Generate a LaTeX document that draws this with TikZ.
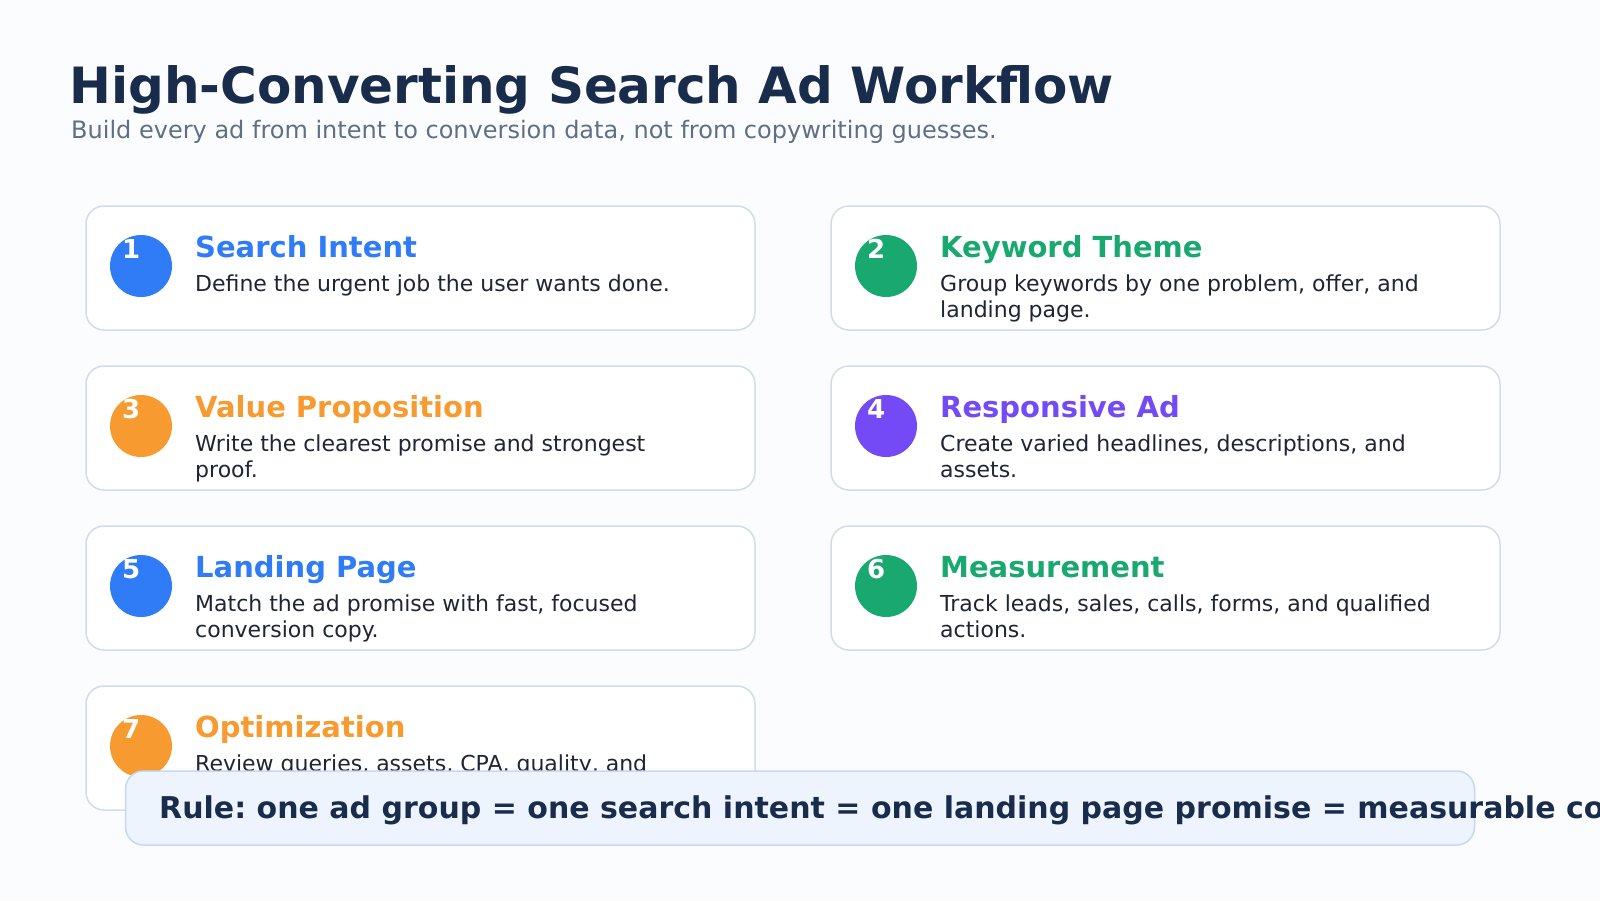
\documentclass[tikz,border=0pt]{standalone}
\usepackage{fontspec}
\setmainfont{DejaVu Sans}
\usepackage{tikz}
\frenchspacing

\definecolor{pagebg}{HTML}{FAFCFE}
\definecolor{navy}{HTML}{1A2C4B}
\definecolor{slate}{HTML}{5F6F86}
\definecolor{ink}{HTML}{1F2533}
\definecolor{cardline}{HTML}{D3DCEA}
\definecolor{stepblue}{HTML}{2F7CF6}
\definecolor{stepgreen}{HTML}{19A970}
\definecolor{steporange}{HTML}{F79A30}
\definecolor{steppurple}{HTML}{734AF6}
\definecolor{rulefill}{HTML}{EDF4FE}
\definecolor{ruleline}{HTML}{C3D9F5}

\tikzset{
    card/.style={draw=cardline,line width=1.5pt,fill=white,rounded corners=18pt,
        minimum width=669pt,minimum height=124pt,inner sep=0pt},
    badge/.style={circle,minimum size=62pt,inner sep=0pt},
    badgenum/.style={anchor=base west,inner sep=0pt,text=white,
        font=\fontsize{26}{30}\selectfont\bfseries},
    cardtitle/.style={anchor=base west,inner sep=0pt,
        font=\fontsize{29}{34}\selectfont\bfseries},
    carddesc/.style={anchor=base west,inner sep=0pt,text=ink,align=left,
        font=\fontsize{22}{26}\selectfont}
}

\begin{document}
\begin{tikzpicture}[x=1pt,y=-1pt]
\fill[pagebg] (0,0) rectangle (1600,900);
\useasboundingbox (0,0) rectangle (1600,900);

\node[anchor=base west,inner sep=0pt,text=navy,font=\fontsize{50}{60}\selectfont\bfseries]
    (title) at (69,103) {High-Converting Search Ad Workflow};
\node[anchor=base west,inner sep=0pt,text=slate,font=\fontsize{24}{28}\selectfont]
    (subtitle) at (71,138) {Build every ad from intent to conversion data, not from copywriting guesses.};

% cards
\node[card] (c1) at (420.5,268) {};
\node[card] (c2) at (1165.5,268) {};
\node[card] (c3) at (420.5,428) {};
\node[card] (c4) at (1165.5,428) {};
\node[card] (c5) at (420.5,588) {};
\node[card] (c6) at (1165.5,588) {};
\node[card] (c7) at (420.5,748) {};

% badges
\node[badge,fill=stepblue] (b1) at (141,266) {};
\node[badge,fill=stepgreen] (b2) at (886,266) {};
\node[badge,fill=steporange] (b3) at (141,426) {};
\node[badge,fill=steppurple] (b4) at (886,426) {};
\node[badge,fill=stepblue] (b5) at (141,586) {};
\node[badge,fill=stepgreen] (b6) at (886,586) {};
\node[badge,fill=steporange] (b7) at (141,746) {};

\node[badgenum] (n1) at (122,258) {1};
\node[badgenum] (n2) at (867,258) {2};
\node[badgenum] (n3) at (122,418) {3};
\node[badgenum] (n4) at (867,418) {4};
\node[badgenum] (n5) at (122,578) {5};
\node[badgenum] (n6) at (867,578) {6};
\node[badgenum] (n7) at (122,738) {7};

% titles and texts (two-line texts sit on their last baseline)
\node[cardtitle,text=stepblue] (t1) at (195,257) {Search Intent};
\node[carddesc] (d1) at (195,291) {Define the urgent job the user wants done.};

\node[cardtitle,text=stepgreen] (t2) at (940,257) {Keyword Theme};
\node[carddesc] (d2) at (940,317) {Group keywords by one problem, offer, and\\landing page.};

\node[cardtitle,text=steporange] (t3) at (195,417) {Value Proposition};
\node[carddesc] (d3) at (195,477) {Write the clearest promise and strongest\\proof.};

\node[cardtitle,text=steppurple] (t4) at (940,417) {Responsive Ad};
\node[carddesc] (d4) at (940,477) {Create varied headlines, descriptions, and\\assets.};

\node[cardtitle,text=stepblue] (t5) at (195,577) {Landing Page};
\node[carddesc] (d5) at (195,637) {Match the ad promise with fast, focused\\conversion copy.};

\node[cardtitle,text=stepgreen] (t6) at (940,577) {Measurement};
\node[carddesc] (d6) at (940,637) {Track leads, sales, calls, forms, and qualified\\actions.};

\node[cardtitle,text=steporange] (t7) at (195,737) {Optimization};
\node[carddesc] (d7) at (195,771) {Review queries, assets, CPA, quality, and};

% rule banner
\node[draw=ruleline,line width=1.5pt,fill=rulefill,rounded corners=18pt,
    minimum width=1349pt,minimum height=74pt,inner sep=0pt] (rule) at (800,808) {};
\node[anchor=base west,inner sep=0pt,text=navy,font=\fontsize{30}{36}\selectfont\bfseries]
    (ruletext) at (159,818) {Rule: one ad group = one search intent = one landing page promise = measurable conversion.};
\end{tikzpicture}
\end{document}
